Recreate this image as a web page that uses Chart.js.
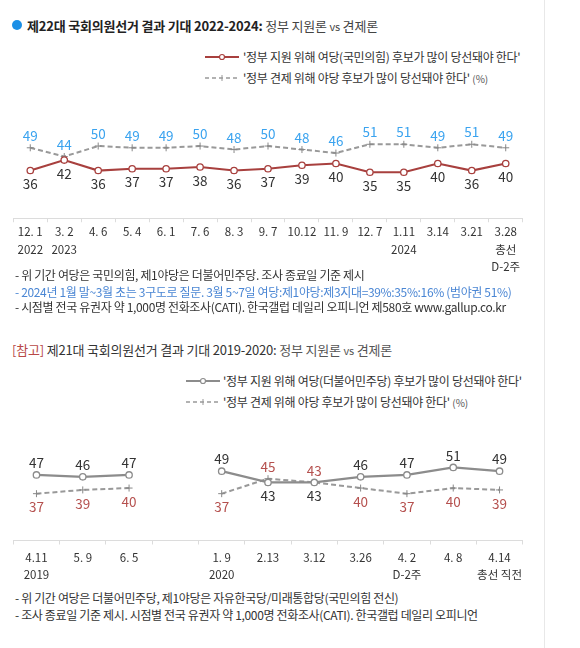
<!DOCTYPE html>
<html>
<head>
<meta charset="utf-8">
<script src="https://cdn.jsdelivr.net/npm/chart.js@4.4.1/dist/chart.umd.min.js"></script>
<style>
  body { margin: 0; background: #fff; font-family: 'Noto Sans CJK KR', sans-serif; color: #333; }
  #page { position: relative; width: 580px; height: 648px; overflow: hidden; }
  .t { position: absolute; white-space: nowrap; line-height: 16px; }
  .ttl { font-size: 13px; letter-spacing: -0.2px; }
  .note { font-size: 12px; letter-spacing: -0.35px; }
  canvas { position: absolute; left: 0; }
  .leg { position: absolute; font-size: 12px; line-height: 16px; white-space: nowrap; color: #333; letter-spacing: -0.3px; }
  .leg svg { position: absolute; left: 0; top: 3px; }
  .leg span.tx { position: absolute; white-space: nowrap; }
  .pct { font-size: 10px; color: #555; letter-spacing: 0; }
</style>
</head>
<body>
<div id="page">
  <div style="position:absolute;left:544px;top:0;width:1px;height:648px;background:#e8e8e8"></div>

  <div style="position:absolute;left:12px;top:20px;width:10px;height:10px;border-radius:50%;background:#1b8fe6"></div>
  <div class="t ttl" style="left:27px;top:18px;"><b style="color:#222">제22대 국회의원선거 결과 기대 2022-2024:</b> <span style="color:#444">정부 지원론 <span style="font-size:11px">vs</span> 견제론</span></div>

  <div class="leg" style="left:205px;top:49px;">
    <svg width="34" height="10"><line x1="0" y1="5" x2="34" y2="5" stroke="#a8403e" stroke-width="2"/><circle cx="17" cy="5" r="2.5" fill="#fff" stroke="#a8403e" stroke-width="1.2"/></svg>
    <span class="tx" style="left:38px">'정부 지원 위해 여당(국민의힘) 후보가 많이 당선돼야 한다'</span>
  </div>
  <div class="leg" style="left:205px;top:70px;">
    <svg width="34" height="10"><line x1="0" y1="5" x2="34" y2="5" stroke="#999" stroke-width="1.6" stroke-dasharray="4 3"/><line x1="17" y1="2" x2="17" y2="8" stroke="#999" stroke-width="1"/></svg>
    <span class="tx" style="left:38px">'정부 견제 위해 야당 후보가 많이 당선돼야 한다' <span class="pct">(%)</span></span>
  </div>

  <canvas id="top" width="540" height="176" style="top:100px"></canvas>

  <div class="t note" style="left:15px;top:267px;color:#333">- 위 기간 여당은 국민의힘, 제1야당은 더불어민주당. 조사 종료일 기준 제시</div>
  <div class="t note" style="left:15px;top:284px;color:#4a86d4">- 2024년 1월 말~3월 초는 3구도로 질문. 3월 5~7일 여당:제1야당:제3지대=39%:35%:16% (범야권 51%)</div>
  <div class="t note" style="left:15px;top:299px;color:#333">- 시점별 전국 유권자 약 1,000명 전화조사(CATI). 한국갤럽 데일리 오피니언 제580호 www.gallup.co.kr</div>

  <div class="t ttl" style="left:12px;top:342px;"><span style="color:#b84846">[참고]</span> <span style="color:#333">제21대 국회의원선거 결과 기대 2019-2020:</span> <span style="color:#555">정부 지원론 <span style="font-size:11px">vs</span> 견제론</span></div>

  <div class="leg" style="left:186px;top:373px;">
    <svg width="34" height="10"><line x1="0" y1="5" x2="34" y2="5" stroke="#8c8c8c" stroke-width="2"/><circle cx="17" cy="5" r="2.5" fill="#fff" stroke="#8c8c8c" stroke-width="1.2"/></svg>
    <span class="tx" style="left:37px">'정부 지원 위해 여당(더불어민주당) 후보가 많이 당선돼야 한다'</span>
  </div>
  <div class="leg" style="left:186px;top:394px;">
    <svg width="34" height="10"><line x1="0" y1="5" x2="34" y2="5" stroke="#999" stroke-width="1.6" stroke-dasharray="4 3"/><line x1="17" y1="2" x2="17" y2="8" stroke="#999" stroke-width="1"/></svg>
    <span class="tx" style="left:37px">'정부 견제 위해 야당 후보가 많이 당선돼야 한다' <span class="pct">(%)</span></span>
  </div>

  <canvas id="bottom" width="540" height="167" style="top:420px"></canvas>

  <div class="t note" style="left:15px;top:590px;color:#333">- 위 기간 여당은 더불어민주당, 제1야당은 자유한국당/미래통합당(국민의힘 전신)</div>
  <div class="t note" style="left:15px;top:607px;color:#333">- 조사 종료일 기준 제시. 시점별 전국 유권자 약 1,000명 전화조사(CATI). 한국갤럽 데일리 오피니언</div>
</div>

<script>
// 2022-2024
const dates22 = [['12. 1', '2022'], ['3. 2', '2023'], ['4. 6'], ['5. 4'], ['6. 1'], ['7. 6'], ['8. 3'], ['9. 7'],
    ['10.12'], ['11. 9'], ['12. 7'], ['1.11', '2024'], ['3.14'], ['3.21'], ['3.28', '총선', 'D-2주']];
const support22 = [36, 42, 36, 37, 37, 38, 36, 37, 39, 40, 35, 35, 40, 36, 40];
const check22 = [49, 44, 50, 49, 49, 50, 48, 50, 48, 46, 51, 51, 49, 51, 49];

// 2019-2020 (빈 칸은 구간 구분)
const dates21 = [['4.11', '2019'], ['5. 9'], ['6. 5'], [''], ['1. 9', '2020'], ['2.13'], ['3.12'], ['3.26'],
    ['4. 2', 'D-2주'], ['4. 8'], ['4.14', '총선 직전']];
const support21 = [47, 46, 47, null, 49, 43, 43, 46, 47, 51, 49];
const check21 = [37, 39, 40, null, 37, 45, 43, 40, 37, 40, 39];

const FONT = "'Noto Sans CJK KR', sans-serif";

// 값 라벨 (점 위/아래)
const valueLabels = {
    id: 'valueLabels',
    afterDatasetsDraw(chart) {
        const ctx = chart.ctx;
        chart.data.datasets.forEach(function (ds, i) {
            const meta = chart.getDatasetMeta(i);
            meta.data.forEach(function (pt, j) {
                const v = ds.data[j];
                if (v === null || v === undefined) return;
                let side = ds.labelSide;
                if (ds.labelFlip && ds.labelFlip.indexOf(j) >= 0) side = side === 'above' ? 'below' : 'above';
                const dy = side === 'above' ? -12 : 13.5;
                ctx.save();
                ctx.font = '13.5px ' + FONT;
                ctx.fillStyle = ds.labelColor;
                ctx.textAlign = 'center';
                ctx.textBaseline = 'middle';
                ctx.fillText(String(v), pt.x, pt.y + dy);
                ctx.restore();
            });
        });
    }
};

function solid(data, color, labelColor, side, flip) {
    return {
        data: data, borderColor: color, borderWidth: 2.2, tension: 0, spanGaps: false,
        pointStyle: 'circle', pointRadius: 3.2, pointBackgroundColor: '#fff',
        pointBorderColor: color, pointBorderWidth: 1.3,
        labelColor: labelColor, labelSide: side, labelFlip: flip || []
    };
}

function dashed(data, labelColor, side, flip) {
    return {
        data: data, borderColor: '#999', borderWidth: 2, borderDash: [5, 3], tension: 0, spanGaps: false,
        pointStyle: 'cross', pointRadius: 3.5, pointBorderColor: '#888', pointBorderWidth: 1,
        labelColor: labelColor, labelSide: side, labelFlip: flip || []
    };
}

function makeChart(id, labels, datasets, yMin, yMax, tickPad) {
    const ctx = document.getElementById(id).getContext('2d');
    return new Chart(ctx, {
        type: 'line',
        data: { labels: labels, datasets: datasets },
        options: {
            responsive: false,
            animation: false,
            layout: { padding: { left: 13.3, right: 17.3, top: 0, bottom: 0 } },
            plugins: { legend: { display: false }, tooltip: { enabled: false } },
            scales: {
                x: {
                    offset: true,
                    grid: { offset: true, drawOnChartArea: false, drawTicks: true, tickLength: 4, color: '#dcdcdc' },
                    border: { color: '#dcdcdc' },
                    ticks: {
                        color: '#333', padding: tickPad, maxRotation: 0, autoSkip: false,
                        font: { family: FONT, size: 11.5, lineHeight: 1.5 }
                    }
                },
                y: { display: false, min: yMin, max: yMax }
            }
        },
        plugins: [valueLabels]
    });
}

makeChart('top', dates22, [
    solid(support22, '#a8403e', '#333', 'below'),
    dashed(check22, '#3aa3ef', 'above')
], 8.7, 73.3, 1);

makeChart('bottom', dates21, [
    solid(support21, '#8c8c8c', '#333', 'above', [5, 6]),
    dashed(check21, '#b5504e', 'below', [5, 6])
], 12, 73.5, 4);
</script>
</body>
</html>
